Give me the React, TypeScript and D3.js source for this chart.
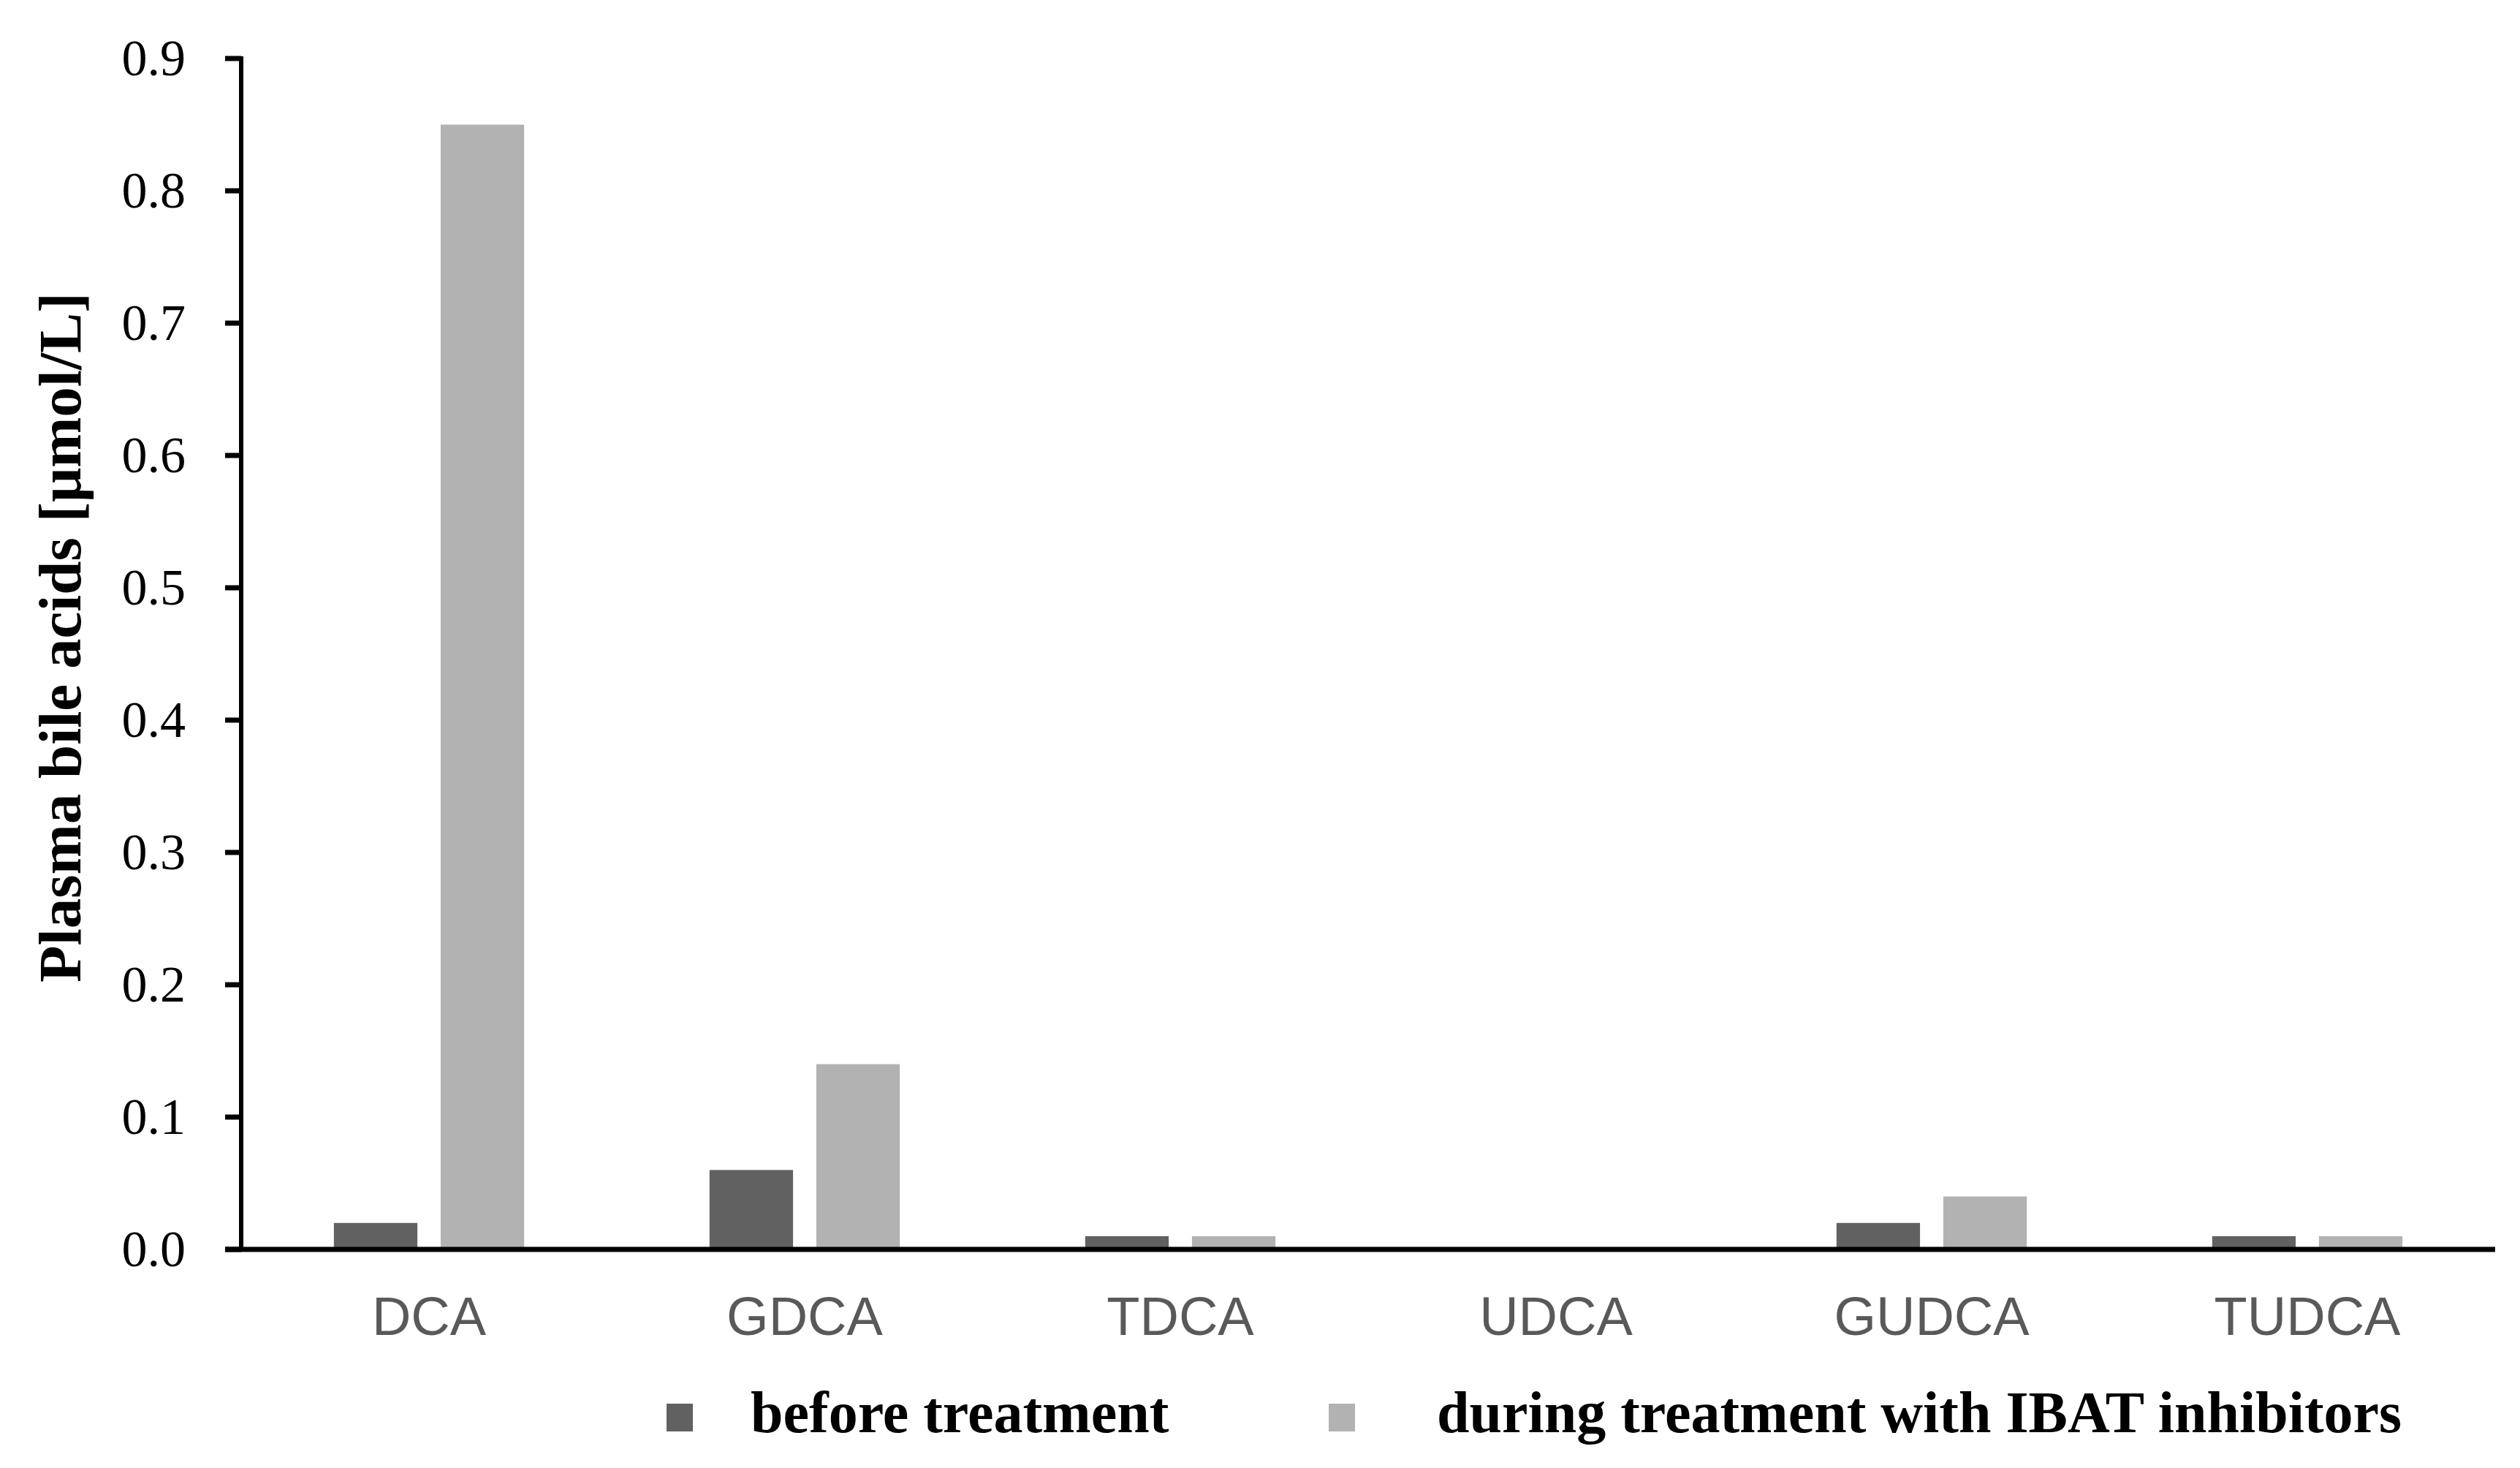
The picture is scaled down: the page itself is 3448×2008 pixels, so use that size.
import React, { useEffect } from 'react';
import * as d3 from 'd3';

const categories = ['DCA', 'GDCA', 'TDCA', 'UDCA', 'GUDCA', 'TUDCA'];
const seriesNames = ['before treatment', 'during treatment with IBAT inhibitors'];
const beforeValues = [0.02, 0.06, 0.01, 0, 0.02, 0.01];
const duringValues = [0.85, 0.14, 0.01, 0, 0.04, 0.01];
const yTicks = [0, 0.1, 0.2, 0.3, 0.4, 0.5, 0.6, 0.7, 0.8, 0.9];
const seriesColors = ['#616161', '#b2b2b2'];

const W = 3448;
const H = 2008;
const plot = { left: 330, right: 3414, top: 80, bottom: 1709 };

const serif = '"Liberation Serif", "DejaVu Serif", serif';
const sans = '"Liberation Sans", Arial, sans-serif';

const App: React.FC = () => {
  useEffect(() => {
    document.body.style.margin = '0';
  }, []);

  const x = d3.scaleBand<string>().domain(categories).range([plot.left, plot.right]);
  const xs = d3
    .scaleBand<string>()
    .domain(seriesNames)
    .range([0, x.bandwidth()])
    .paddingInner(0.218)
    .paddingOuter(0.868);
  const y = d3.scaleLinear().domain([0, 0.9]).range([plot.bottom, plot.top]);
  const fmt = d3.format('.1f');

  const series = [beforeValues, duringValues];

  // legend: swatch left edge and text offset
  const legendX = [912, 1818];
  const legendTextOffset = [115, 148];

  return (
    <svg width={W} height={H} style={{ display: 'block', background: '#fff' }}>
      {/* bars */}
      {series.map((vals, si) =>
        categories.map((c, ci) => {
          const v = vals[ci];
          if (v <= 0) return null;
          return (
            <rect
              key={`${si}-${c}`}
              x={(x(c) ?? 0) + (xs(seriesNames[si]) ?? 0)}
              y={y(v)}
              width={xs.bandwidth()}
              height={y(0) - y(v)}
              fill={seriesColors[si]}
            />
          );
        })
      )}

      {/* y axis */}
      <line x1={plot.left} x2={plot.left} y1={y(0.9) - 3} y2={y(0)} stroke="#000" strokeWidth={6} />
      {yTicks.map(t => (
        <g key={t}>
          <line x1={plot.left - 22} x2={plot.left} y1={y(t)} y2={y(t)} stroke="#000" strokeWidth={7} />
          <text
            x={254}
            y={y(t)}
            dy="0.33em"
            textAnchor="end"
            fontFamily={serif}
            fontSize={70}
            fill="#000"
          >
            {fmt(t)}
          </text>
        </g>
      ))}

      {/* x axis */}
      <line x1={plot.left - 22} x2={plot.right} y1={y(0)} y2={y(0)} stroke="#000" strokeWidth={7} />
      {categories.map(c => (
        <text
          key={c}
          x={(x(c) ?? 0) + x.bandwidth() / 2}
          y={1826}
          textAnchor="middle"
          fontFamily={sans}
          fontSize={74}
          fill="#595959"
        >
          {c}
        </text>
      ))}

      {/* y axis title */}
      <text
        transform={`translate(110,872) rotate(-90)`}
        textAnchor="middle"
        fontFamily={serif}
        fontWeight="bold"
        fontSize={83}
        fill="#000"
      >
        Plasma bile acids [μmol/L]
      </text>

      {/* legend */}
      {seriesNames.map((name, i) => (
        <g key={name}>
          <rect x={legendX[i]} y={1920} width={36} height={38} fill={seriesColors[i]} />
          <text
            x={legendX[i] + legendTextOffset[i]}
            y={1959}
            fontFamily={serif}
            fontWeight="bold"
            fontSize={80}
            fill="#000"
          >
            {name}
          </text>
        </g>
      ))}
    </svg>
  );
};

export default App;
